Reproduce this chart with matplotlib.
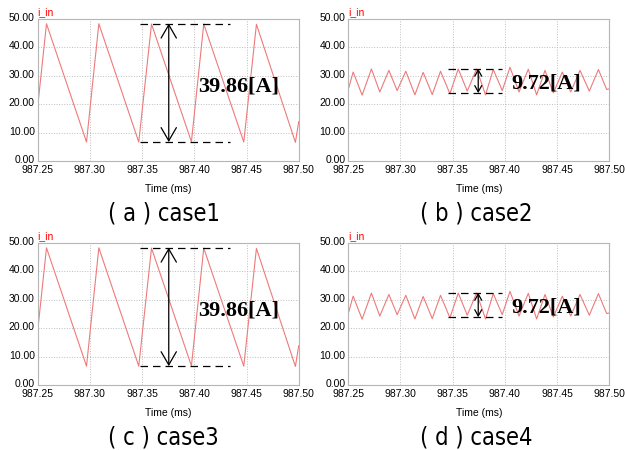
import matplotlib
matplotlib.use("Agg")
import matplotlib.pyplot as plt
from matplotlib import font_manager
from matplotlib.transforms import ScaledTranslation

# sawtooth current (case1 / case3): vertices, time in ms
saw_t = [987.2500, 987.2586, 987.2969, 987.3087, 987.3469, 987.3591, 987.3973,
         987.4091, 987.4474, 987.4595, 987.4968, 987.5000]
saw_i = [18.5, 48.3, 6.7, 48.3, 6.7, 48.2, 6.8, 48.2, 6.7, 48.1, 6.6, 13.9]

# ripple current (case2 / case4)
rip_t = [987.2500, 987.2548, 987.2634, 987.2723, 987.2803, 987.2890, 987.2969,
         987.3052, 987.3139, 987.3218, 987.3305, 987.3384, 987.3474, 987.3554,
         987.3640, 987.3729, 987.3815, 987.3889, 987.3975, 987.4049, 987.4135,
         987.4224, 987.4304, 987.4384, 987.4464, 987.4550, 987.4630, 987.4719,
         987.4808, 987.4895, 987.4974, 987.5000]
rip_i = [25.0, 31.3, 23.2, 32.4, 24.3, 31.9, 24.8, 31.6, 23.3, 31.2, 23.4,
         31.6, 23.7, 32.4, 24.6, 32.4, 23.3, 32.2, 24.8, 33.0, 24.3, 32.3,
         23.3, 31.9, 24.0, 31.3, 24.3, 31.9, 24.6, 32.2, 25.2, 25.4]

xticks = [987.25, 987.30, 987.35, 987.40, 987.45, 987.50]
yticks = [0, 10, 20, 30, 40, 50]

# peak-to-peak markers: (top, bottom, dash start, dash end, arrow x, label)
saw_pp = (48.35, 6.7, 987.3479, 987.4340, 987.3756, "39.86[A]")
rip_pp = (32.5, 23.9, 987.3458, 987.3969, 987.3745, "9.72[A]")

captions = ["( a ) case1", "( b ) case2", "( c ) case3", "( d ) case4"]

names = {f.name for f in font_manager.fontManager.ttflist}
cap_font = ["Liberation Sans Narrow"] if "Liberation Sans Narrow" in names else ["DejaVu Sans"]
cap_stretch = "normal" if cap_font[0] == "Liberation Sans Narrow" else "condensed"

plt.rcParams["font.family"] = ["Liberation Sans", "DejaVu Sans"]

fig = plt.figure(figsize=(6.25, 4.5), dpi=100)

positions = [
    [0.060, 0.642, 0.418, 0.316],
    [0.557, 0.642, 0.418, 0.316],
    [0.060, 0.144, 0.418, 0.316],
    [0.557, 0.144, 0.418, 0.316],
]
caption_xy = [(0.262, 0.526), (0.762, 0.526), (0.262, 0.028), (0.762, 0.028)]


def draw(ax, t, i, pp, big):
    ax.plot(t, i, color="#ee7a7a", lw=0.8)
    ax.set_xlim(987.25, 987.50)
    ax.set_ylim(0, 50)
    ax.set_xticks(xticks)
    ax.set_yticks(yticks)
    ax.set_xticklabels([f"{v:.2f}" for v in xticks])
    ax.set_yticklabels([f"{v:.2f}" for v in yticks])
    ax.tick_params(length=0, labelsize=7.5)
    ax.tick_params(axis="x", pad=3)
    ax.tick_params(axis="y", pad=2)
    # the y labels sit a little above their grid lines
    up = ScaledTranslation(0, 2 / 100, fig.dpi_scale_trans)
    for lab in ax.get_yticklabels():
        lab.set_transform(lab.get_transform() + up)
    ax.grid(True, ls=":", color="#bdbdbd", lw=0.7)
    for s in ax.spines.values():
        s.set_color("#b5b5b5")
        s.set_linewidth(0.8)
    ax.set_xlabel("Time (ms)", fontsize=7.5, labelpad=6)
    ax.text(0.0, 1.01, "i_in", transform=ax.transAxes, color="red",
            fontsize=7.5, va="bottom", ha="left")

    top, bot, x0, x1, xa, label = pp
    ax.hlines([top, bot], x0, x1, colors="black", lw=0.9, linestyles=(0, (6, 4)))
    if big:
        style = "<->,head_length=0.95,head_width=0.55"
    else:
        style = "<->,head_length=0.45,head_width=0.25"
    ax.annotate("", xy=(xa, top), xytext=(xa, bot),
                arrowprops=dict(arrowstyle=style, color="black", lw=0.9,
                                shrinkA=0, shrinkB=0))
    ax.text(x1 - 0.030 if big else x1 + 0.0095, 26.3 if big else 27.4, label,
            family=["Liberation Serif", "DejaVu Serif"], weight="bold",
            fontsize=16, va="center", ha="left")


data = [(saw_t, saw_i, saw_pp, True), (rip_t, rip_i, rip_pp, False),
        (saw_t, saw_i, saw_pp, True), (rip_t, rip_i, rip_pp, False)]

for pos, (t, i, pp, big), cap, cxy in zip(positions, data, captions, caption_xy):
    ax = fig.add_axes(pos)
    draw(ax, t, i, pp, big)
    fig.text(cxy[0], cxy[1], cap, family=cap_font, stretch=cap_stretch,
             fontsize=17, ha="center", va="center")

fig.savefig("out.png", dpi=100)
